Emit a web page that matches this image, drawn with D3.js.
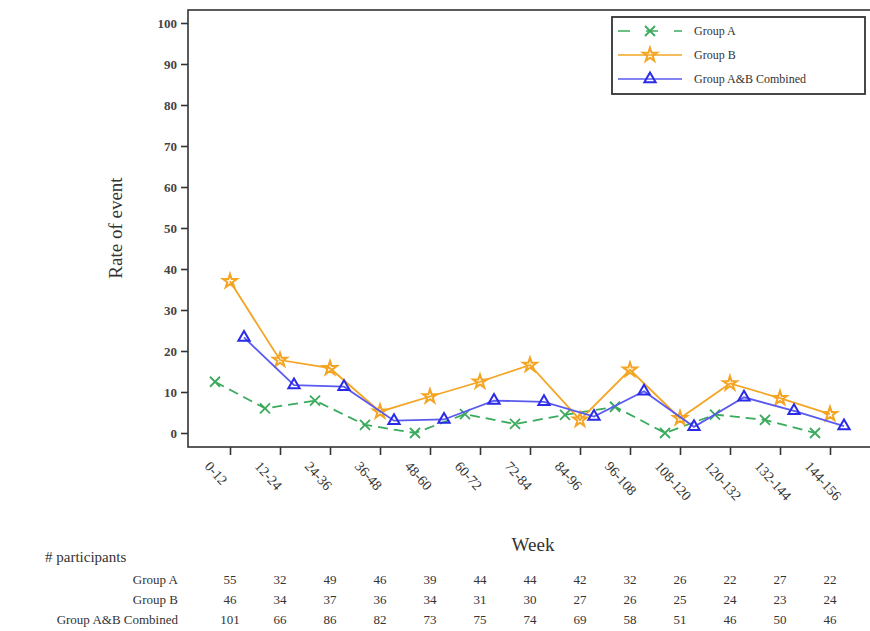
<!DOCTYPE html>
<html>
<head>
<meta charset="utf-8">
<script src="https://cdn.jsdelivr.net/npm/d3@7"></script>
<style>
  body { margin: 0; background: #fff; }
  svg { font-family: "Liberation Serif", "DejaVu Serif", serif; }
</style>
</head>
<body>
<div id="chart"></div>
<script>
'use strict';

var weeks = ['0-12', '12-24', '24-36', '36-48', '48-60', '60-72', '72-84',
             '84-96', '96-108', '108-120', '120-132', '132-144', '144-156'];
var groupA   = [12.5, 6.0, 7.9, 2.0, 0, 4.6, 2.2, 4.4, 6.4, 0, 4.5, 3.2, 0];
var groupB   = [37, 17.8, 15.8, 5.2, 8.9, 12.5, 16.6, 3.2, 15.4, 3.6, 12.1, 8.5, 4.6];
var combined = [23.3, 11.7, 11.3, 3.0, 3.3, 7.9, 7.6, 4.0, 10.2, 1.5, 8.7, 5.4, 1.7];
var yTicks = [0, 10, 20, 30, 40, 50, 60, 70, 80, 90, 100];

var nA   = [55, 32, 49, 46, 39, 44, 44, 42, 32, 26, 22, 27, 22];
var nB   = [46, 34, 37, 36, 34, 31, 30, 27, 26, 25, 24, 23, 24];
var nAB  = [101, 66, 86, 82, 73, 75, 74, 69, 58, 51, 46, 50, 46];
var rowLabels = ['Group A', 'Group B', 'Group A&B Combined'];

var width = 870, height = 631;
var svg = d3.select('#chart').append('svg')
    .attr('width', width)
    .attr('height', height);

var plotLeft = 188, plotTop = 10, plotBottom = 447;

var x = d3.scalePoint()
    .domain(weeks)
    .range([230, 830]);
var y = d3.scaleLinear()
    .domain([0, 100])
    .range([433, 23]);

// frame (right edge runs off the picture)
svg.append('rect')
    .attr('x', plotLeft).attr('y', plotTop)
    .attr('width', 700).attr('height', plotBottom - plotTop)
    .attr('fill', 'none')
    .attr('stroke', '#333')
    .attr('stroke-width', 1.6);

var yAxis = svg.append('g')
    .attr('transform', 'translate(' + plotLeft + ',0)')
    .call(d3.axisLeft(y).tickValues(yTicks).tickSize(7).tickPadding(4));
yAxis.select('.domain').remove();
yAxis.selectAll('line').attr('stroke', '#333').attr('stroke-width', 1.6);
yAxis.selectAll('text').attr('font-size', 13).attr('fill', '#444')
    .attr('font-weight', 'bold')
    .attr('font-family', '"Liberation Serif", serif');

var xAxis = svg.append('g')
    .attr('transform', 'translate(0,' + plotBottom + ')')
    .call(d3.axisBottom(x).tickSize(8).tickPadding(10));
xAxis.select('.domain').remove();
xAxis.selectAll('line').attr('stroke', '#333').attr('stroke-width', 1.6);
xAxis.selectAll('text')
    .attr('font-size', 14).attr('fill', '#333')
    .attr('font-family', '"Liberation Serif", serif')
    .attr('text-anchor', 'start')
    .attr('dy', '0.3em')
    .attr('transform', 'translate(-10,5) rotate(48)');

svg.append('text')
    .attr('transform', 'translate(122,228) rotate(-90)')
    .attr('text-anchor', 'middle')
    .attr('font-size', 19)
    .attr('fill', '#333')
    .text('Rate of event');

svg.append('text')
    .attr('x', 533).attr('y', 551)
    .attr('text-anchor', 'middle')
    .attr('font-size', 19)
    .attr('fill', '#333')
    .text('Week');

var series = [
    { name: 'Group A', values: groupA, off: -15, color: '#3aaa5c', line: '#3aaa5c', dash: '10,6', marker: 'x' },
    { name: 'Group B', values: groupB, off: 0, color: '#f3a523', line: '#f3a523', dash: null, marker: 'star' },
    { name: 'Group A&B Combined', values: combined, off: 14, color: '#2a2ae8', line: '#5a5af0', dash: null, marker: 'tri' }
];

var symbols = {
    star: d3.symbol().type(d3.symbolStar).size(60),
    tri: d3.symbol().type(d3.symbolTriangle).size(55)
};

function drawMarker(g, s, cx, cy) {
    if (s.marker === 'x') {
        g.append('path')
            .attr('d', 'M' + (cx - 5) + ',' + (cy - 5) + 'L' + (cx + 5) + ',' + (cy + 5) +
                       'M' + (cx - 5) + ',' + (cy + 5) + 'L' + (cx + 5) + ',' + (cy - 5))
            .attr('stroke', s.color).attr('stroke-width', 1.8).attr('fill', 'none');
    } else {
        g.append('path')
            .attr('d', symbols[s.marker]())
            .attr('transform', 'translate(' + cx + ',' + cy + ')')
            .attr('fill', 'none')
            .attr('stroke', s.color)
            .attr('stroke-width', 2);
    }
}

series.forEach(function (s) {
    var line = d3.line()
        .x(function (d, i) { return x(weeks[i]) + s.off; })
        .y(function (d) { return y(d); });
    svg.append('path')
        .datum(s.values)
        .attr('d', line)
        .attr('fill', 'none')
        .attr('stroke', s.line)
        .attr('stroke-width', 1.8)
        .attr('stroke-dasharray', s.dash);
    var g = svg.append('g');
    s.values.forEach(function (v, i) {
        drawMarker(g, s, x(weeks[i]) + s.off, y(v));
    });
});

// legend
var lg = svg.append('g');
lg.append('rect')
    .attr('x', 612).attr('y', 17)
    .attr('width', 253).attr('height', 77)
    .attr('fill', '#fff')
    .attr('stroke', '#333')
    .attr('stroke-width', 1.8);
series.forEach(function (s, i) {
    var ly = 31 + i * 24;
    lg.append('line')
        .attr('x1', 618).attr('x2', 682)
        .attr('y1', ly).attr('y2', ly)
        .attr('stroke', s.line)
        .attr('stroke-width', 1.6)
        .attr('stroke-dasharray', s.dash ? '12,16' : null);
    drawMarker(lg, s, 650, ly);
    lg.append('text')
        .attr('x', 694).attr('y', ly + 4)
        .attr('font-size', 12)
        .attr('fill', '#333')
        .text(s.name);
});

// participants table
svg.append('text')
    .attr('x', 45).attr('y', 562)
    .attr('font-size', 15)
    .attr('fill', '#333')
    .text('# participants');

[nA, nB, nAB].forEach(function (row, r) {
    var ry = 584 + r * 20;
    svg.append('text')
        .attr('x', 178).attr('y', ry)
        .attr('text-anchor', 'end')
        .attr('font-size', 13)
        .attr('fill', '#333')
        .text(rowLabels[r]);
    svg.append('g').selectAll('text')
        .data(row)
        .join('text')
        .attr('x', function (d, i) { return x(weeks[i]); })
        .attr('y', ry)
        .attr('text-anchor', 'middle')
        .attr('font-size', 13)
        .attr('fill', '#333')
        .text(function (d) { return d; });
});
</script>
</body>
</html>
